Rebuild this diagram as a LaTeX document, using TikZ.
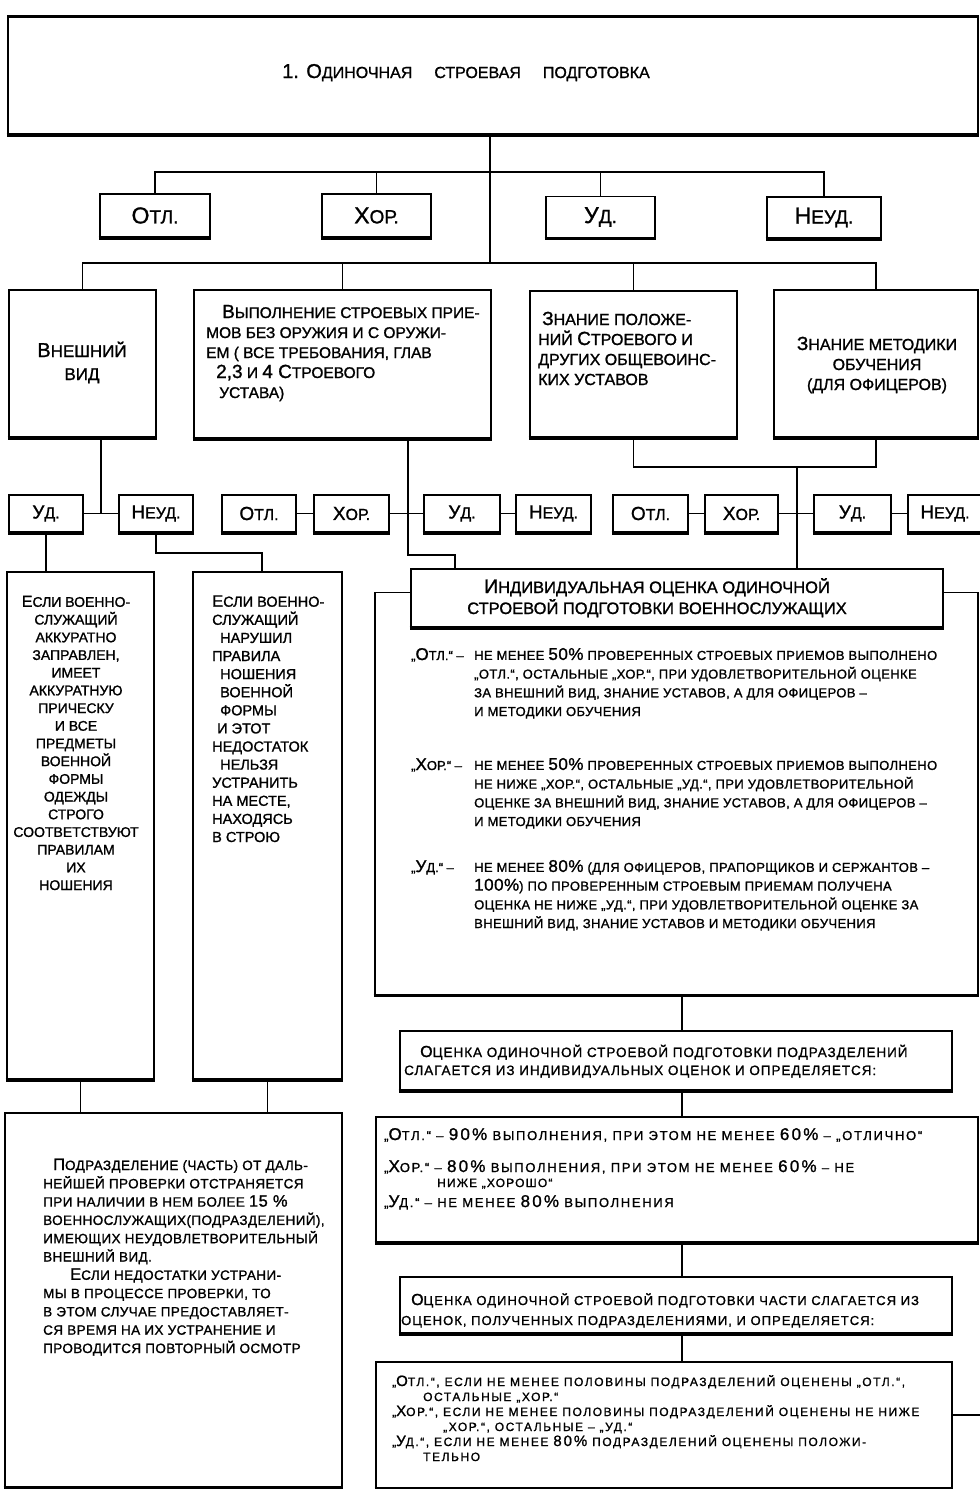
\documentclass[tikz,border=0pt]{standalone}
\usepackage{fontspec}
\setmainfont{Liberation Sans}[FakeBold=1.2]
\makeatletter
\newcommand\B[1]{{\fontsize{\bsz}{\f@baselineskip}\selectfont #1}}
\makeatother
\newcommand\setfs[3]{\fontsize{#1}{#3}\selectfont\def\bsz{#2}}
\newcommand\lsp[1]{\addfontfeatures{LetterSpace=#1}}
\def\bsz{12}
\begin{document}
\begin{tikzpicture}[x=1pt,y=-1pt,
  bx/.style={draw, line width=1.5pt, inner sep=0pt, fill=white},
  cn/.style={line width=1.2pt},
  tb/.style={line width=3.5pt},
  tx/.style={inner sep=0pt, align=left, anchor=base west},
  tc/.style={inner sep=0pt, align=center, anchor=base},
]
\useasboundingbox (0,0) rectangle (980,1489);
\fill[white] (0,0) rectangle (980,1489);

% ---------- boxes ----------
\node[bx, minimum width=970, minimum height=117] (T) at (493,75.5) {};
\node[tc, font=\setfs{16}{20}{20}] (tt) at (466,78)
  {\B{1. О}ДИНОЧНАЯ\hspace{22pt}СТРОЕВАЯ\hspace{22pt}ПОДГОТОВКА};

\node[bx, minimum width=110, minimum height=43, font=\setfs{19}{23}{23}] (g1) at (155,215.5) {\B{О}ТЛ.};
\node[bx, minimum width=109, minimum height=43, font=\setfs{19}{23}{23}] (g2) at (376.5,215.5) {\B{Х}ОР.};
\node[bx, minimum width=109, minimum height=41, font=\setfs{19}{23}{23}] (g3) at (600.5,217) {\B{У}Д.};
\node[bx, minimum width=114, minimum height=41, font=\setfs{19}{23}{23}] (g4) at (824,217.5) {\B{Н}ЕУД.};

\node[bx, minimum width=147, minimum height=147] (V) at (82.5,363.5) {};
\node[bx, minimum width=297, minimum height=148] (P) at (342.5,364) {};
\node[bx, minimum width=207, minimum height=146] (Z) at (633.5,364) {};
\node[bx, minimum width=204, minimum height=147] (M) at (876,363.5) {};

\node[tc, font=\setfs{17}{20}{23}] (vt) at (82,380) {\B{В}НЕШНИЙ\\ВИД};
\node[tx, font=\setfs{15.5}{19}{20}] (pt) at (206,398)
  {\hspace*{16pt}\B{В}ЫПОЛНЕНИЕ СТРОЕВЫХ ПРИЕ-\\МОВ БЕЗ ОРУЖИЯ И С ОРУЖИ-\\ЕМ ( ВСЕ ТРЕБОВАНИЯ, ГЛАВ\\\hspace*{10pt}\B{2,3} И \B{4 С}ТРОЕВОГО\\\hspace*{13pt}УСТАВА)};
\node[tx, font=\setfs{16}{19}{20}] (zt) at (538,385)
  {\hspace*{4pt}\B{З}НАНИЕ ПОЛОЖЕ-\\НИЙ \B{С}ТРОЕВОГО И\\ДРУГИХ ОБЩЕВОИНС-\\КИХ УСТАВОВ};
\node[tc, font=\setfs{16}{19}{20}] (mt) at (877,390)
  {\B{З}НАНИЕ МЕТОДИКИ\\ОБУЧЕНИЯ\\(ДЛЯ ОФИЦЕРОВ)};

\foreach \n/\x/\w/\t in {s1/46/74/\B{У}Д., s2/156/74/\B{Н}ЕУД., s3/259/74/\B{О}ТЛ., s4/351.5/75/\B{Х}ОР.,
  s5/462/76/\B{У}Д., s6/553.5/75/\B{Н}ЕУД., s7/650.5/75/\B{О}ТЛ., s8/741.5/73/\B{Х}ОР.,
  s9/852.5/77/\B{У}Д., s10/945/74/\B{Н}ЕУД.}
  \node[bx, minimum width=\w, minimum height=37, font=\setfs{16}{19}{19}] (\n) at (\x,513.5) {\t};

\node[bx, minimum width=147, minimum height=507] (A) at (80.5,825.5) {};
\node[bx, minimum width=149, minimum height=507] (Bx) at (267.5,825.5) {};
\node[bx, minimum width=337, minimum height=374] (L) at (173.5,1300) {};

\node[tc, font=\setfs{14}{16}{17.7}] (at) at (76,890)
  {\B{Е}СЛИ ВОЕННО-\\СЛУЖАЩИЙ\\АККУРАТНО\\ЗАПРАВЛЕН,\\ИМЕЕТ\\АККУРАТНУЮ\\ПРИЧЕСКУ\\И ВСЕ\\ПРЕДМЕТЫ\\ВОЕННОЙ\\ФОРМЫ\\ОДЕЖДЫ\\СТРОГО\\СООТВЕТСТВУЮТ\\ПРАВИЛАМ\\ИХ\\НОШЕНИЯ};
\node[tx, font=\setfs{14.5}{16.5}{18.1}] (bt) at (212,842)
  {\B{Е}СЛИ ВОЕННО-\\СЛУЖАЩИЙ\\\hspace*{8pt}НАРУШИЛ\\ПРАВИЛА\\\hspace*{8pt}НОШЕНИЯ\\\hspace*{8pt}ВОЕННОЙ\\\hspace*{8pt}ФОРМЫ\\\hspace*{5pt}И ЭТОТ\\НЕДОСТАТОК\\\hspace*{8pt}НЕЛЬЗЯ\\УСТРАНИТЬ\\НА МЕСТЕ,\\НАХОДЯСЬ\\В СТРОЮ};
\node[tx, font=\setfs{13.5}{16.5}{18.3}\lsp{3}] (lt) at (43,1353)
  {\hspace*{10pt}\B{П}ОДРАЗДЕЛЕНИЕ (ЧАСТЬ) ОТ ДАЛЬ-\\НЕЙШЕЙ ПРОВЕРКИ ОТСТРАНЯЕТСЯ\\ПРИ НАЛИЧИИ В НЕМ БОЛЕЕ \B{15 \%}\\ВОЕННОСЛУЖАЩИХ(ПОДРАЗДЕЛЕНИЙ),\\ИМЕЮЩИХ НЕУДОВЛЕТВОРИТЕЛЬНЫЙ\\ВНЕШНИЙ ВИД.\\\hspace*{27pt}\B{Е}СЛИ НЕДОСТАТКИ УСТРАНИ-\\МЫ В ПРОЦЕССЕ ПРОВЕРКИ, ТО\\В ЭТОМ СЛУЧАЕ ПРЕДОСТАВЛЯЕТ-\\СЯ ВРЕМЯ НА ИХ УСТРАНЕНИЕ И\\ПРОВОДИТСЯ ПОВТОРНЫЙ ОСМОТР};

% right column
\node[bx, minimum width=603, minimum height=402] (I) at (676.5,793.5) {};
\node[bx, minimum width=532, minimum height=58] (H) at (677,598) {};
\node[tc, font=\setfs{16.5}{19.5}{21}] (ht) at (657,614)
  {\B{И}НДИВИДУАЛЬНАЯ ОЦЕНКА ОДИНОЧНОЙ\\СТРОЕВОЙ ПОДГОТОВКИ ВОЕННОСЛУЖАЩИХ};

\node[tx, font=\setfs{13}{17}{18.7}] (i1) at (411,660) {„\B{О}ТЛ.“ –};
\node[tx, font=\setfs{13}{17}{18.7}\lsp{3}] (i1b) at (474,716)
  {НЕ МЕНЕЕ \B{50\%} ПРОВЕРЕННЫХ СТРОЕВЫХ ПРИЕМОВ ВЫПОЛНЕНО\\„ОТЛ.“, ОСТАЛЬНЫЕ „ХОР.“, ПРИ УДОВЛЕТВОРИТЕЛЬНОЙ ОЦЕНКЕ\\ЗА ВНЕШНИЙ ВИД, ЗНАНИЕ УСТАВОВ, А ДЛЯ ОФИЦЕРОВ –\\И МЕТОДИКИ ОБУЧЕНИЯ};
\node[tx, font=\setfs{13}{17}{18.7}] (i2) at (411,770) {„\B{Х}ОР.“ –};
\node[tx, font=\setfs{13}{17}{18.7}\lsp{3}] (i2b) at (474,826)
  {НЕ МЕНЕЕ \B{50\%} ПРОВЕРЕННЫХ СТРОЕВЫХ ПРИЕМОВ ВЫПОЛНЕНО\\НЕ НИЖЕ „ХОР.“, ОСТАЛЬНЫЕ „УД.“, ПРИ УДОВЛЕТВОРИТЕЛЬНОЙ\\ОЦЕНКЕ ЗА ВНЕШНИЙ ВИД, ЗНАНИЕ УСТАВОВ, А ДЛЯ ОФИЦЕРОВ –\\И МЕТОДИКИ ОБУЧЕНИЯ};
\node[tx, font=\setfs{13}{17}{18.7}] (i3) at (411,872) {„\B{У}Д.“ –};
\node[tx, font=\setfs{13}{17}{18.7}\lsp{3}] (i3b) at (474,928)
  {НЕ МЕНЕЕ \B{80\%} (ДЛЯ ОФИЦЕРОВ, ПРАПОРЩИКОВ И СЕРЖАНТОВ –\\\B{100\%}) ПО ПРОВЕРЕННЫМ СТРОЕВЫМ ПРИЕМАМ ПОЛУЧЕНА\\ОЦЕНКА НЕ НИЖЕ „УД.“, ПРИ УДОВЛЕТВОРИТЕЛЬНОЙ ОЦЕНКЕ ЗА\\ВНЕШНИЙ ВИД, ЗНАНИЕ УСТАВОВ И МЕТОДИКИ ОБУЧЕНИЯ};

\node[bx, minimum width=552, minimum height=59] (D) at (676,1060.5) {};
\node[tx, font=\setfs{13.5}{16}{18}\lsp{7}] (dt) at (404,1075)
  {\hspace*{16pt}\B{О}ЦЕНКА ОДИНОЧНОЙ СТРОЕВОЙ ПОДГОТОВКИ ПОДРАЗДЕЛЕНИЙ\\СЛАГАЕТСЯ ИЗ ИНДИВИДУАЛЬНЫХ ОЦЕНОК И ОПРЕДЕЛЯЕТСЯ:};

\node[bx, minimum width=602, minimum height=125] (E) at (677,1179.5) {};
\node[tx, font=\setfs{13}{17}{18}\lsp{13}] (e1) at (384,1140)
  {„\B{О}ТЛ.“ – \B{90\%} ВЫПОЛНЕНИЯ, ПРИ ЭТОМ НЕ МЕНЕЕ \B{60\%} – „ОТЛИЧНО“};
\node[tx, font=\setfs{13}{17}{18}\lsp{13}] (e2) at (384,1172)
  {„\B{Х}ОР.“ – \B{80\%} ВЫПОЛНЕНИЯ, ПРИ ЭТОМ НЕ МЕНЕЕ \B{60\%} – НЕ};
\node[tx, font=\setfs{12}{15}{18}\lsp{10}] (e3) at (437,1187) {НИЖЕ „ХОРОШО“};
\node[tx, font=\setfs{13}{17}{18}\lsp{13}] (e4) at (384,1207)
  {„\B{У}Д.“ – НЕ МЕНЕЕ \B{80\%} ВЫПОЛНЕНИЯ};

\node[bx, minimum width=552, minimum height=56] (F) at (676,1305) {};
\node[tx, font=\setfs{13}{16}{20}\lsp{8}] (ft) at (401,1325)
  {\hspace*{10pt}\B{О}ЦЕНКА ОДИНОЧНОЙ СТРОЕВОЙ ПОДГОТОВКИ ЧАСТИ СЛАГАЕТСЯ ИЗ\\ОЦЕНОК, ПОЛУЧЕННЫХ ПОДРАЗДЕЛЕНИЯМИ, И ОПРЕДЕЛЯЕТСЯ:};

\node[bx, minimum width=576, minimum height=126] (G) at (664,1425) {};
\node[tx, font=\setfs{12}{15}{15}\lsp{13}] (gt) at (392,1461)
  {„\B{О}ТЛ.“, ЕСЛИ НЕ МЕНЕЕ ПОЛОВИНЫ ПОДРАЗДЕЛЕНИЙ ОЦЕНЕНЫ „ОТЛ.“,\\\hspace*{31pt}ОСТАЛЬНЫЕ „ХОР.“\\„\B{Х}ОР.“, ЕСЛИ НЕ МЕНЕЕ ПОЛОВИНЫ ПОДРАЗДЕЛЕНИЙ ОЦЕНЕНЫ НЕ НИЖЕ\\\hspace*{51pt}„ХОР.“, ОСТАЛЬНЫЕ – „УД.“\\„\B{У}Д.“, ЕСЛИ НЕ МЕНЕЕ \B{80\%} ПОДРАЗДЕЛЕНИЙ ОЦЕНЕНЫ ПОЛОЖИ-\\\hspace*{31pt}ТЕЛЬНО};

% thick bottom edges
\foreach \n in {T,g1,g2,g3,g4,V,P,Z,M,s1,s2,s3,s4,s5,s6,s7,s8,s9,s10,A,Bx,L,I,H,D,E,F,G}
  \draw[tb] ([xshift=-0.7pt]\n.south west) -- ([xshift=0.7pt]\n.south east);
\draw[line width=2.5pt] (T.north west) -- (T.north east);

% ---------- connectors ----------
\coordinate (j1) at (490,172);
\coordinate (j2) at (490,263);
\draw[cn] (T.south -| j1) -- (j2);
\draw[cn] (g1.north) |- (g4.north |- j1) -- (g4.north);
\draw[cn] (g2.north) -- (g2.north |- j1);
\draw[cn] (g3.north) -- (g3.north |- j1);
\draw[cn] (V.north) |- (M.north |- j2) -- (M.north);
\draw[cn] (P.north) -- (P.north |- j2);
\draw[cn] (Z.north) -- (Z.north |- j2);

\coordinate (k1) at (101,513.5);
\draw[cn] (V.south -| k1) -- (k1);
\draw[cn] (s1.east) -- (s2.west);
\draw[cn] (s1.south) -- (s1.south |- A.north);
\coordinate (m2) at (262,553);
\draw[cn] (s2.south) |- (m2) -- (m2 |- Bx.north);
\draw[cn] (s3.east) -- (s4.west);
\draw[cn] (s4.east) -- (s5.west);
\draw[cn] (s5.east) -- (s6.west);
\coordinate (p1) at (408,555);
\coordinate (p2) at (455,555);
\draw[cn] (P.south -| p1) -- (p1) -- (p2) -- (H.north -| p2);
\draw[cn] (s7.east) -- (s8.west);
\draw[cn] (s8.east) -- (s9.west);
\draw[cn] (s9.east) -- (s10.west);
\coordinate (q1) at (797,467);
\draw[cn] (Z.south) |- (M.south |- q1) -- (M.south);
\draw[cn] (q1) -- (H.north -| q1);
\draw[cn] (A.south) -- (A.south |- L.north);
\draw[cn] (Bx.south) -- (Bx.south |- L.north);

\coordinate (cx) at (682,1000);
\draw[cn] (I.south -| cx) -- (D.north -| cx);
\draw[cn] (D.south -| cx) -- (E.north -| cx);
\draw[cn] (E.south -| cx) -- (F.north -| cx);
\draw[cn] (F.south -| cx) -- (G.north -| cx);
\coordinate (r1) at (984,1415);
\draw[cn] (G.east |- r1) -- (r1);
\end{tikzpicture}
\end{document}
